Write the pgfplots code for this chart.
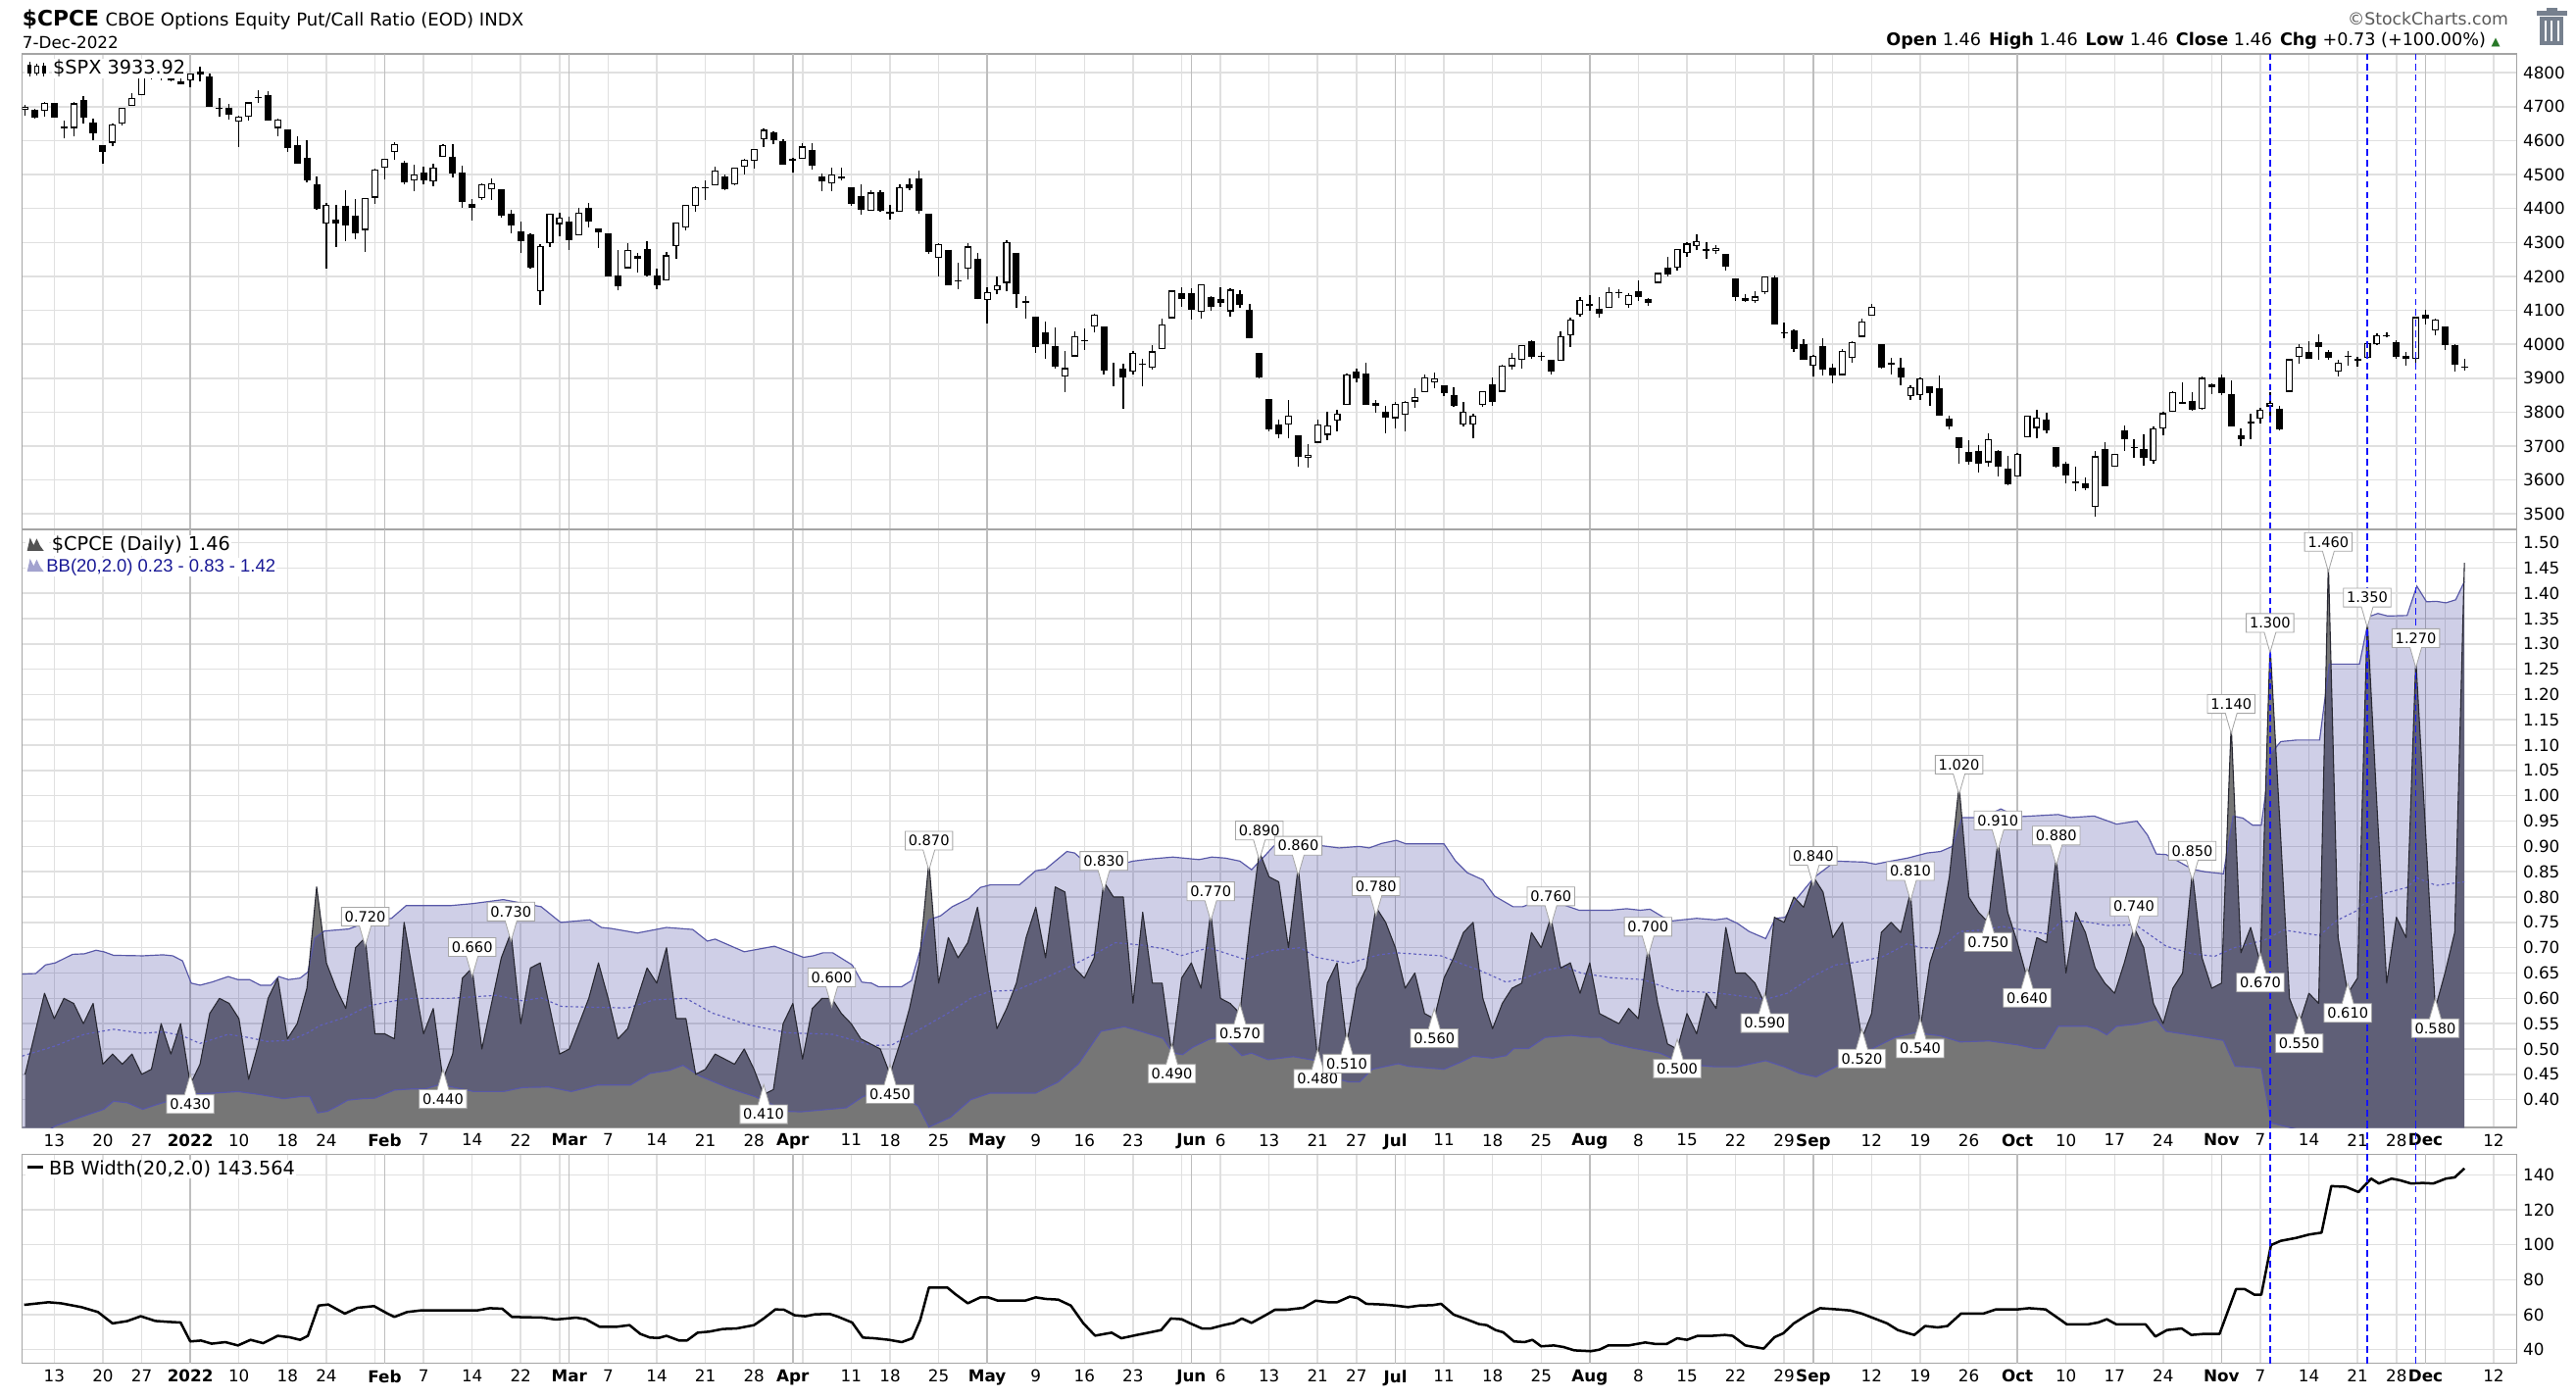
\documentclass[border=0pt]{standalone}
\usepackage{fontspec}
\setmainfont{DejaVu Sans}
\newfontfamily\libsans{Liberation Sans}
\usepackage{pgfplots}
\usepackage{pgfplotstable}
\pgfplotsset{compat=1.18}
\usetikzlibrary{shapes.callouts}

\definecolor{cpcegray}{RGB}{118,118,118}
\definecolor{bbfill}{RGB}{0,0,125}
\definecolor{bbline}{RGB}{88,88,168}
\definecolor{bbmid}{RGB}{95,95,190}
\definecolor{cpceline}{RGB}{40,40,50}
\definecolor{gridlt}{RGB}{224,224,224}
\definecolor{griddk}{RGB}{190,190,190}
\definecolor{framec}{RGB}{165,165,165}
\definecolor{legblue}{RGB}{25,25,150}
\definecolor{upgreen}{RGB}{40,120,40}
\definecolor{trash}{RGB}{118,128,142}
\definecolor{dashblue}{RGB}{20,20,255}

\pgfplotstableread{
i o h l c
-3 4690 4705 4674 4701
-2 4691 4695 4665 4668
-1 4687 4713 4670 4712
0 4710 4711 4667 4669
1 4643 4660 4606 4635
2 4637 4713 4612 4710
3 4719 4732 4651 4669
4 4652 4666 4600 4621
5 4587 4588 4531 4568
6 4594 4651 4583 4649
7 4650 4698 4645 4697
8 4703 4741 4703 4725
9 4733 4791 4733 4791
10 4795 4807 4780 4786
11 4788 4805 4779 4793
12 4795 4808 4775 4778
13 4775 4787 4765 4766
14 4778 4797 4758 4797
15 4805 4819 4774 4794
16 4788 4798 4699 4701
17 4693 4725 4671 4696
18 4698 4707 4663 4677
19 4655 4673 4582 4670
20 4670 4715 4658 4713
21 4728 4749 4712 4726
22 4734 4745 4658 4660
23 4637 4666 4614 4663
24 4632 4633 4568 4577
25 4588 4612 4532 4533
26 4548 4602 4477 4483
27 4471 4495 4396 4398
28 4356 4417 4223 4410
29 4367 4412 4287 4357
30 4409 4454 4304 4350
31 4380 4429 4309 4326
32 4337 4432 4273 4432
33 4432 4517 4414 4516
34 4520 4547 4485 4546
35 4566 4595 4544 4589
36 4535 4542 4471 4477
37 4482 4529 4451 4501
38 4505 4522 4472 4484
39 4480 4531 4466 4521
40 4553 4590 4553 4587
41 4553 4589 4492 4504
42 4506 4527 4402 4419
43 4413 4427 4364 4401
44 4430 4473 4426 4472
45 4456 4490 4425 4475
46 4456 4456 4372 4380
47 4385 4395 4328 4349
48 4332 4362 4268 4305
49 4325 4327 4222 4226
50 4156 4295 4115 4289
51 4298 4385 4287 4385
52 4354 4389 4318 4374
53 4363 4375 4279 4306
54 4322 4401 4322 4387
55 4401 4417 4345 4363
56 4342 4342 4285 4329
57 4327 4327 4199 4201
58 4203 4277 4158 4171
59 4224 4299 4224 4278
60 4253 4268 4210 4260
61 4280 4303 4200 4204
62 4203 4222 4162 4173
63 4188 4271 4187 4262
64 4289 4358 4253 4358
65 4345 4412 4335 4412
66 4407 4465 4390 4463
67 4462 4482 4425 4461
68 4469 4523 4469 4512
69 4494 4501 4455 4456
70 4470 4520 4469 4520
71 4523 4546 4501 4543
72 4541 4576 4517 4576
73 4603 4637 4582 4632
74 4624 4627 4589 4602
75 4599 4604 4530 4530
76 4541 4548 4507 4546
77 4547 4593 4547 4583
78 4572 4593 4515 4525
79 4494 4504 4451 4481
80 4474 4521 4451 4500
81 4494 4520 4484 4488
82 4462 4464 4409 4413
83 4437 4471 4382 4397
84 4394 4453 4392 4447
85 4449 4453 4390 4392
86 4386 4410 4367 4391
87 4390 4471 4390 4462
88 4472 4489 4455 4460
89 4489 4512 4385 4394
90 4385 4386 4267 4272
91 4255 4299 4201 4296
92 4279 4279 4174 4175
93 4187 4240 4163 4184
94 4223 4299 4190 4288
95 4253 4270 4132 4132
96 4131 4169 4062 4155
97 4159 4200 4147 4175
98 4181 4308 4156 4301
99 4270 4270 4106 4147
100 4129 4141 4075 4123
101 4082 4082 3975 3991
102 4036 4068 3958 4001
103 3994 4050 3928 3935
104 3904 3981 3859 3930
105 3964 4039 3964 4024
106 4013 4047 3984 4008
107 4053 4090 4034 4088
108 4052 4052 3912 3923
109 3901 3946 3877 3901
110 3927 3944 3810 3901
111 3920 3981 3910 3974
112 3943 3956 3875 3941
113 3930 3999 3925 3979
114 3985 4076 3985 4058
115 4077 4158 4077 4158
116 4151 4169 4110 4132
117 4150 4166 4074 4101
118 4095 4178 4075 4177
119 4138 4142 4099 4109
120 4134 4169 4110 4121
121 4097 4164 4081 4161
122 4148 4160 4107 4116
123 4102 4120 4017 4018
124 3974 3974 3900 3901
125 3838 3838 3744 3750
126 3764 3778 3722 3735
127 3764 3837 3722 3790
128 3733 3733 3639 3667
129 3665 3707 3637 3675
130 3710 3779 3710 3765
131 3733 3802 3718 3760
132 3775 3808 3743 3796
133 3821 3913 3821 3912
134 3920 3928 3889 3900
135 3913 3945 3820 3821
136 3826 3837 3799 3819
137 3800 3819 3738 3785
138 3782 3829 3752 3825
139 3793 3832 3742 3831
140 3831 3870 3813 3845
141 3859 3910 3859 3903
142 3888 3918 3870 3899
143 3880 3880 3847 3855
144 3851 3874 3815 3819
145 3763 3829 3759 3802
146 3764 3796 3722 3790
147 3820 3863 3817 3863
148 3883 3903 3818 3831
149 3860 3939 3860 3937
150 3935 3975 3925 3960
151 3955 3999 3927 3999
152 4008 4012 3956 3962
153 3966 3976 3950 3967
154 3953 3953 3910 3921
155 3951 4039 3951 4024
156 4027 4079 3993 4072
157 4087 4140 4080 4130
158 4112 4145 4099 4119
159 4105 4140 4079 4091
160 4107 4167 4107 4155
161 4154 4161 4135 4152
162 4115 4152 4107 4145
163 4156 4187 4128 4140
164 4134 4137 4112 4122
165 4181 4212 4181 4210
166 4227 4258 4201 4207
167 4225 4281 4218 4280
168 4270 4301 4257 4297
169 4290 4325 4277 4305
170 4281 4302 4253 4275
171 4274 4293 4265 4284
172 4266 4266 4218 4228
173 4195 4195 4128 4138
174 4135 4149 4124 4128
175 4127 4157 4122 4141
176 4154 4200 4147 4199
177 4198 4204 4058 4058
178 4034 4063 4017 4031
179 4042 4045 3976 3986
180 4000 4015 3955 3955
181 3936 3970 3904 3967
182 3995 4019 3907 3924
183 3930 3942 3886 3908
184 3909 3987 3907 3980
185 3959 4010 3945 4006
186 4022 4077 4022 4067
187 4084 4119 4084 4110
188 4000 4000 3928 3932
189 3941 3961 3912 3946
190 3932 3959 3880 3901
191 3847 3880 3837 3873
192 3849 3901 3837 3900
193 3875 3877 3819 3856
194 3871 3907 3789 3790
195 3782 3791 3749 3758
196 3727 3727 3647 3693
197 3682 3716 3644 3655
198 3687 3704 3623 3647
199 3652 3737 3640 3720
200 3687 3688 3610 3640
201 3633 3672 3584 3586
202 3610 3679 3610 3678
203 3726 3791 3726 3791
204 3753 3807 3722 3783
205 3777 3797 3739 3745
206 3696 3698 3636 3640
207 3647 3653 3589 3612
208 3595 3640 3568 3589
209 3590 3609 3570 3577
210 3520 3685 3492 3670
211 3690 3713 3582 3583
212 3638 3677 3638 3677
213 3747 3762 3687 3720
214 3696 3719 3666 3695
215 3690 3736 3641 3665
216 3657 3757 3647 3752
217 3752 3800 3733 3797
218 3800 3862 3800 3859
219 3825 3887 3824 3831
220 3834 3859 3803 3807
221 3809 3905 3808 3901
222 3882 3886 3853 3872
223 3901 3912 3849 3856
224 3853 3894 3759 3759
225 3733 3751 3699 3720
226 3767 3796 3721 3771
227 3780 3814 3766 3807
228 3817 3859 3786 3828
229 3810 3818 3745 3749
230 3860 3958 3860 3956
231 3963 4001 3944 3993
232 3978 4009 3956 3957
233 4006 4029 3953 3992
234 3977 3983 3955 3959
235 3919 3954 3906 3947
236 3966 3980 3936 3965
237 3957 3962 3933 3950
238 3959 4005 3956 4004
239 4001 4033 3998 4027
240 4023 4035 4020 4026
241 4005 4013 3956 3964
242 3965 3976 3937 3958
243 3957 4080 3939 4080
244 4087 4101 4058 4076
245 4041 4077 4027 4072
246 4053 4053 3984 3999
247 3997 4001 3919 3941
248 3931 3958 3923 3934
}\spx

\pgfplotstableread{
i v
-3 0.45
-2 0.53
-1 0.61
0 0.56
1 0.60
2 0.59
3 0.55
4 0.59
5 0.47
6 0.49
7 0.47
8 0.49
9 0.45
10 0.46
11 0.55
12 0.49
13 0.55
14 0.43
15 0.47
16 0.57
17 0.60
18 0.59
19 0.56
20 0.44
21 0.51
22 0.60
23 0.64
24 0.52
25 0.55
26 0.62
27 0.82
28 0.67
29 0.62
30 0.58
31 0.70
32 0.72
33 0.53
34 0.53
35 0.52
36 0.75
37 0.64
38 0.53
39 0.58
40 0.44
41 0.49
42 0.64
43 0.66
44 0.50
45 0.59
46 0.68
47 0.73
48 0.55
49 0.66
50 0.67
51 0.58
52 0.49
53 0.50
54 0.55
55 0.60
56 0.67
57 0.60
58 0.52
59 0.54
60 0.60
61 0.66
62 0.63
63 0.70
64 0.56
65 0.56
66 0.45
67 0.46
68 0.49
69 0.48
70 0.47
71 0.50
72 0.46
73 0.41
74 0.42
75 0.55
76 0.59
77 0.48
78 0.58
79 0.60
80 0.60
81 0.57
82 0.55
83 0.52
84 0.51
85 0.50
86 0.45
87 0.51
88 0.58
89 0.67
90 0.87
91 0.63
92 0.72
93 0.68
94 0.71
95 0.78
96 0.66
97 0.54
98 0.58
99 0.63
100 0.72
101 0.78
102 0.68
103 0.82
104 0.81
105 0.66
106 0.64
107 0.68
108 0.83
109 0.80
110 0.80
111 0.59
112 0.77
113 0.63
114 0.63
115 0.49
116 0.64
117 0.67
118 0.62
119 0.77
120 0.60
121 0.59
122 0.57
123 0.74
124 0.89
125 0.84
126 0.83
127 0.70
128 0.86
129 0.67
130 0.48
131 0.63
132 0.67
133 0.51
134 0.62
135 0.66
136 0.78
137 0.75
138 0.70
139 0.62
140 0.65
141 0.57
142 0.56
143 0.64
144 0.68
145 0.73
146 0.75
147 0.60
148 0.54
149 0.59
150 0.62
151 0.63
152 0.73
153 0.70
154 0.76
155 0.66
156 0.67
157 0.61
158 0.67
159 0.57
160 0.56
161 0.55
162 0.58
163 0.56
164 0.70
165 0.59
166 0.51
167 0.50
168 0.57
169 0.53
170 0.61
171 0.58
172 0.74
173 0.65
174 0.65
175 0.63
176 0.59
177 0.76
178 0.75
179 0.80
180 0.78
181 0.84
182 0.81
183 0.72
184 0.75
185 0.64
186 0.52
187 0.57
188 0.73
189 0.75
190 0.73
191 0.81
192 0.54
193 0.67
194 0.73
195 0.84
196 1.02
197 0.80
198 0.77
199 0.75
200 0.91
201 0.77
202 0.71
203 0.64
204 0.72
205 0.71
206 0.88
207 0.65
208 0.77
209 0.73
210 0.66
211 0.63
212 0.61
213 0.67
214 0.74
215 0.70
216 0.59
217 0.55
218 0.62
219 0.65
220 0.85
221 0.68
222 0.62
223 0.63
224 1.14
225 0.69
226 0.74
227 0.67
228 1.30
229 0.95
230 0.60
231 0.55
232 0.61
233 0.59
234 1.46
235 0.72
236 0.61
237 0.64
238 1.35
239 0.98
240 0.63
241 0.76
242 0.72
243 1.27
244 0.93
245 0.58
246 0.65
247 0.73
248 1.46
}\cpce

\pgfplotstableread{
x y s
-3.3 0.648 1
-1.9 0.649 1
-0.9 0.666 1
0.1 0.670 1
1.9 0.687 1
3.1 0.688 1
4.3 0.695 1
5.1 0.692 1
6.1 0.685 1
9.1 0.684 1
11.2 0.686 1
12.2 0.684 1
13.2 0.674 1
14.1 0.630 1
15.0 0.626 1
16.2 0.632 1
17.9 0.643 1
18.9 0.637 1
20.1 0.637 1
21.2 0.626 1
22.3 0.626 1
23.1 0.643 1
24.1 0.637 1
25.3 0.640 1
26.1 0.652 1
26.8 0.719 1
27.8 0.733 1
30.3 0.737 1
32.1 0.750 1
34.7 0.758 1
36.2 0.783 1
40.7 0.783 1
43.0 0.787 1
46.2 0.795 1
50.1 0.781 1
52.1 0.750 1
55.1 0.755 1
56.3 0.740 1
57.3 0.738 1
60.0 0.729 1
63.0 0.740 1
65.7 0.736 1
67.2 0.713 1
68.0 0.717 1
71.0 0.692 1
74.1 0.703 1
77.1 0.681 1
78.1 0.684 1
79.1 0.690 1
80.1 0.690 1
82.1 0.666 1
83.1 0.632 1
84.1 0.630 1
84.8 0.623 1
87.2 0.623 1
88.2 0.635 1
90.0 0.755 1
91.2 0.763 1
92.4 0.781 1
94.1 0.797 1
95.3 0.819 1
96.3 0.824 1
99.3 0.824 1
101.0 0.852 1
102.0 0.855 1
104.2 0.890 1
105.0 0.887 1
106.4 0.863 1
108.0 0.856 1
111.0 0.871 1
112.7 0.875 1
115.1 0.879 1
117.8 0.874 1
119.1 0.879 1
120.5 0.877 1
122.0 0.871 1
123.2 0.854 1
124.2 0.874 1
125.5 0.901 1
127.5 0.905 1
130.6 0.901 1
132.2 0.897 1
134.3 0.900 1
135.3 0.897 1
136.6 0.906 1
138.1 0.912 1
139.1 0.905 1
143.0 0.905 1
144.2 0.871 1
145.4 0.848 1
147.0 0.834 1
148.2 0.802 1
150.1 0.781 1
151.1 0.781 1
152.4 0.790 1
155.4 0.784 1
156.9 0.774 1
160.1 0.774 1
161.8 0.777 1
163.2 0.774 1
164.2 0.776 1
165.5 0.761 1
166.5 0.753 1
169.0 0.758 1
170.9 0.755 1
172.1 0.758 1
173.2 0.748 1
174.4 0.732 1
176.1 0.718 1
177.1 0.758 1
178.1 0.760 1
179.3 0.797 1
181.1 0.839 1
183.3 0.871 1
186.3 0.869 1
187.4 0.865 1
188.7 0.870 1
190.7 0.877 1
192.7 0.887 1
194.1 0.890 1
195.3 0.900 1
196.3 0.957 1
198.4 0.957 1
200.3 0.974 1
201.3 0.965 1
202.5 0.959 1
206.2 0.963 1
207.5 0.957 1
209.9 0.960 1
212.2 0.944 1
214.3 0.950 1
215.4 0.922 1
216.3 0.885 1
217.3 0.884 1
220.0 0.855 1
221.3 0.850 1
223.2 0.846 1
224.2 0.960 1
225.2 0.956 1
226.2 0.942 1
227.1 0.942 1
228.1 1.084 1
229.1 1.107 1
230.7 1.110 1
233.1 1.110 1
234.1 1.260 1
237.2 1.260 1
238.2 1.354 1
239.1 1.360 1
240.1 1.355 1
242.1 1.356 1
243.1 1.414 1
244.1 1.383 1
245.1 1.384 1
246.1 1.381 1
247.1 1.387 1
248.0 1.423 1
248.0 0.237 0
245.1 0.262 0
243.1 0.262 0
242.1 0.282 0
240.1 0.262 0
238.2 0.238 0
237.2 0.250 0
234.1 0.245 0
233.1 0.338 0
230.7 0.342 0
228.1 0.354 0
227.1 0.462 0
226.2 0.464 0
224.4 0.466 0
223.2 0.517 0
221.3 0.523 0
220.0 0.527 0
217.3 0.535 0
216.3 0.558 0
214.2 0.549 0
212.2 0.545 0
211.2 0.528 0
210.2 0.539 0
209.2 0.545 0
206.2 0.545 0
204.8 0.501 0
203.8 0.501 0
202.1 0.508 0
199.1 0.516 0
196.1 0.514 0
194.1 0.526 0
191.4 0.532 0
189.4 0.523 0
186.0 0.490 0
183.3 0.465 0
181.3 0.445 0
179.6 0.452 0
178.0 0.465 0
176.1 0.477 0
173.2 0.465 0
170.9 0.465 0
168.2 0.469 0
166.8 0.479 0
165.2 0.492 0
163.8 0.497 0
162.1 0.503 0
160.1 0.512 0
159.1 0.523 0
158.1 0.523 0
156.1 0.527 0
153.4 0.523 0
151.7 0.501 0
150.2 0.501 0
149.4 0.487 0
148.0 0.482 0
146.0 0.486 0
144.7 0.474 0
143.0 0.460 0
139.3 0.466 0
138.3 0.471 0
135.6 0.460 0
134.3 0.435 0
133.2 0.435 0
131.2 0.445 0
129.9 0.477 0
127.5 0.485 0
124.9 0.479 0
123.2 0.492 0
122.2 0.487 0
121.2 0.506 0
120.1 0.524 0
118.8 0.519 0
117.1 0.503 0
116.1 0.489 0
115.1 0.492 0
114.1 0.521 0
111.8 0.535 0
110.1 0.544 0
107.7 0.535 0
105.4 0.471 0
103.3 0.435 0
101.0 0.413 0
96.3 0.413 0
94.3 0.400 0
92.2 0.365 0
90.0 0.346 0
88.9 0.387 0
87.9 0.400 0
86.5 0.405 0
84.5 0.413 0
83.2 0.406 0
81.5 0.384 0
76.8 0.376 0
75.4 0.377 0
72.1 0.406 0
69.4 0.423 0
66.4 0.447 0
64.7 0.468 0
63.3 0.458 0
61.3 0.452 0
59.3 0.429 0
55.9 0.429 0
53.2 0.416 0
50.9 0.425 0
48.2 0.424 0
46.2 0.416 0
43.2 0.416 0
39.7 0.430 0
38.1 0.421 0
36.7 0.421 0
35.0 0.419 0
33.0 0.403 0
31.7 0.402 0
30.2 0.399 0
29.1 0.387 0
28.1 0.377 0
27.1 0.374 0
26.3 0.406 0
25.3 0.406 0
23.6 0.402 0
21.2 0.410 0
18.9 0.416 0
16.5 0.413 0
14.1 0.411 0
12.2 0.400 0
10.5 0.390 0
9.1 0.381 0
7.5 0.394 0
6.1 0.397 0
5.1 0.381 0
3.1 0.368 0
0.1 0.348 0
-1.0 0.335 0
-3.3 0.320 0
}\band

\pgfplotstableread{
x y
-3.3 0.486
-2.8 0.489
0.1 0.506
3.1 0.529
6.1 0.539
9.1 0.531
11.2 0.534
13.2 0.526
15.0 0.511
17.9 0.529
19.9 0.523
21.9 0.515
24.3 0.517
26.1 0.532
27.3 0.546
30.0 0.563
32.3 0.585
34.7 0.594
36.7 0.600
40.7 0.600
45.5 0.606
48.2 0.595
50.1 0.601
52.2 0.584
59.0 0.581
61.7 0.597
65.0 0.600
67.7 0.571
71.4 0.548
75.4 0.532
80.1 0.529
84.2 0.507
86.2 0.508
89.9 0.548
91.9 0.570
94.3 0.600
96.3 0.614
99.0 0.616
101.3 0.635
104.0 0.658
106.7 0.684
109.2 0.710
112.0 0.705
114.4 0.697
115.9 0.684
118.8 0.700
122.5 0.677
125.2 0.694
128.2 0.700
129.9 0.681
133.2 0.669
136.3 0.686
138.1 0.690
142.7 0.684
144.7 0.669
146.7 0.655
149.4 0.632
151.4 0.641
153.4 0.655
155.4 0.663
157.1 0.650
160.1 0.641
163.5 0.637
166.8 0.615
170.9 0.611
174.3 0.603
176.1 0.598
178.3 0.610
181.1 0.645
183.3 0.666
185.3 0.671
188.1 0.682
190.7 0.708
192.1 0.700
194.1 0.699
196.1 0.732
198.5 0.735
200.5 0.742
202.8 0.734
205.2 0.727
206.5 0.752
208.5 0.753
211.2 0.744
214.2 0.745
215.3 0.730
217.3 0.703
220.0 0.688
222.3 0.683
224.3 0.700
227.4 0.715
229.4 0.735
233.1 0.724
234.8 0.753
236.8 0.772
238.2 0.796
240.1 0.809
242.1 0.819
243.1 0.838
245.1 0.823
248.0 0.830
}\bbmidt

\pgfplotstableread{
x y
-3.1 65.6
-0.6 67.1
0.7 66.5
2.8 64.3
4.5 61.5
6.0 55.0
7.5 56.3
8.9 59.1
10.4 56.4
11.7 55.9
13.0 55.5
14.0 44.7
15.1 45.2
16.2 43.4
17.6 44.3
18.9 42.4
20.2 45.6
21.5 43.7
23.0 47.9
24.2 47.1
25.3 45.6
26.1 47.9
27.2 65.2
28.2 65.8
29.9 60.6
31.2 63.9
32.9 64.9
34.2 60.9
35.0 58.7
36.3 61.5
37.7 62.4
43.5 62.4
44.8 63.7
46.1 63.4
47.1 58.7
50.3 58.3
51.6 57.2
53.7 58.3
54.7 57.4
56.1 53.1
57.9 53.1
59.2 54.0
60.3 49.0
61.3 46.9
62.2 46.7
63.0 47.9
64.3 45.2
65.1 45.2
66.2 49.7
67.4 50.3
68.8 51.8
70.2 52.1
72.0 54.0
73.0 57.8
74.2 63.0
75.1 62.8
76.2 59.6
77.3 59.1
78.3 60.2
79.8 60.4
80.7 58.7
82.1 55.5
83.2 46.9
84.4 46.5
85.9 45.6
87.2 44.3
88.3 46.5
89.1 56.8
90.0 75.5
91.9 75.5
92.7 71.8
94.0 66.5
95.3 69.9
96.1 69.9
97.1 68.0
99.9 68.0
101.0 69.9
102.0 69.0
103.3 68.6
104.6 65.2
105.9 55.0
107.1 48.0
108.8 49.7
109.8 46.5
111.4 48.4
112.6 49.7
113.9 51.2
114.9 57.8
116.0 57.4
116.9 55.0
118.1 52.1
119.0 52.1
120.3 54.0
121.4 55.3
122.2 57.8
123.2 55.3
124.8 60.2
125.6 62.8
126.8 62.8
128.5 63.9
129.8 68.0
131.1 67.1
132.0 67.1
133.3 70.3
134.1 69.5
135.0 66.2
136.7 65.8
138.0 65.2
139.3 64.3
140.5 65.2
141.8 65.4
142.7 66.2
144.0 60.0
145.3 57.4
146.6 54.6
147.4 54.0
148.3 51.2
149.1 49.9
150.2 44.7
151.3 44.3
152.1 45.6
153.0 41.9
154.3 42.4
155.3 41.5
156.4 39.6
158.1 39.1
159.0 40.0
159.9 42.4
162.0 42.4
163.7 44.1
164.8 43.2
165.9 43.2
167.0 46.5
168.0 45.6
169.1 47.9
170.6 47.9
171.9 48.4
172.7 47.9
174.0 42.4
175.9 40.6
177.0 47.1
177.9 49.3
179.0 55.0
180.3 59.6
181.7 63.7
183.5 63.0
184.8 62.4
186.0 60.6
187.3 57.8
188.6 55.0
189.7 51.2
190.8 49.3
191.4 48.4
192.5 53.5
193.8 52.7
194.8 53.5
196.2 60.6
198.5 60.6
199.8 63.0
202.0 63.0
203.2 63.7
204.9 63.0
206.5 56.8
207.1 54.4
209.2 54.4
210.3 55.5
211.2 57.4
212.2 54.4
215.2 54.4
216.2 47.5
217.4 51.2
218.9 52.1
219.9 48.4
221.2 49.0
222.8 49.0
224.5 74.6
225.4 74.6
226.4 71.4
227.1 71.4
228.1 99.8
229.1 102.2
230.7 103.9
232.0 105.8
233.3 106.9
234.3 133.5
235.8 133.1
237.1 130.1
238.4 137.8
239.2 135.0
240.5 137.8
241.4 136.8
242.5 135.0
243.7 135.3
244.8 135.0
246.1 137.8
247.0 138.5
248.0 143.6
}\bbw

\tikzset{
  peakl/.style={rectangle callout, fill=white, draw=black!35, line width=0.5pt,
    inner xsep=2pt, inner ysep=2.4pt, font=\fontsize{8.7}{9}\selectfont,
    yshift=6.8pt, callout relative pointer={(0pt,-12.3pt)}},
  troughl/.style={rectangle callout, fill=white, draw=black!35, line width=0.5pt,
    inner xsep=2pt, inner ysep=2.4pt, font=\fontsize{8.7}{9}\selectfont,
    yshift=-17.9pt, callout relative pointer={(0pt,12.3pt)}},
}

\pgfplotsset{
  panel/.style={
    scale only axis, width=1518.5pt, xmin=-3.3, xmax=253.4,
    anchor=south west,
    axis line style={draw=framec, line width=0.8pt},
    xtick={0,5,9,14,19,24,28,33,38,43,48,52,57,62,67,72,77,82,86,91,96,101,106,111,116,120,125,130,134,139,143,148,153,158,163,168,173,178,183,187,192,197,202,207,212,217,222,227,232,237,241,246,251},
    extra x ticks={14,34,53,76,96,117,138,158,181,202,223,244},
    xmajorgrids, ymajorgrids,
    major grid style={draw=gridlt, line width=0.9pt},
    extra x tick style={major grid style={draw=griddk, line width=0.8pt}},
    major tick length=0pt,
    ytick pos=right, yticklabel pos=right,
    yticklabel style={font=\fontsize{10}{10}\selectfont, anchor=west, inner sep=0pt, xshift=3.6pt},
    xticklabel style={font=\fontsize{10}{10}\selectfont, anchor=north, inner sep=0pt, yshift=-3.7pt},
    /pgf/number format/assume math mode=true,
    /pgf/number format/1000 sep={},
  },
  wklabels/.style={
    xticklabels={13,20,27,,10,18,24,,7,14,22,,7,14,21,28,,11,18,25,,9,16,23,,6,13,21,27,,11,18,25,,8,15,22,29,,12,19,26,,10,17,24,,7,14,21,28,,12},
    extra x tick labels={\textbf{2022},\textbf{Feb},\textbf{Mar},\textbf{Apr},\textbf{May},\textbf{Jun},\textbf{Jul},\textbf{Aug},\textbf{Sep},\textbf{Oct},\textbf{Nov},\textbf{Dec}},
  },
}

\begin{document}
\begin{tikzpicture}
\useasboundingbox (0pt,0pt) rectangle (1568pt,850.8pt);

% ---------------- Panel 1: SPX candlesticks
\begin{axis}[panel, at={(13.5pt,528.6pt)}, height=289.4pt,
  ymin=3454.5, ymax=4855.7, ytick={3500,3600,...,4800},
  xticklabels={}, extra x tick labels={}]
\addplot[black, line width=0.8pt, quiver={u=0, v=\thisrow{h}-\thisrow{l}}] table[x=i,y=l]{\spx};
\addplot[black, line width=4.2pt, quiver={u=0, v=\thisrow{c}-\thisrow{o}},
  restrict expr to domain={\thisrow{o}-\thisrow{c}}{0:100000}] table[x=i,y=o]{\spx};
\addplot[black, line width=4.2pt, quiver={u=0, v=\thisrow{c}-\thisrow{o}},
  restrict expr to domain={\thisrow{c}-\thisrow{o}}{0.5:100000}] table[x=i,y=o]{\spx};
\addplot[white, line width=2.8pt, quiver={u=0, v=\thisrow{c}-\thisrow{o}-6.8},
  restrict expr to domain={\thisrow{c}-\thisrow{o}}{8:100000}] table[x=i,y expr=\thisrow{o}+3.4]{\spx};
\addplot[dashblue, line width=0.9pt, dash pattern=on 4pt off 2.5pt] coordinates {(228,3454.5) (228,4855.7)};
\addplot[dashblue, line width=0.9pt, dash pattern=on 4pt off 2.5pt] coordinates {(238,3454.5) (238,4855.7)};
\addplot[dashblue, line width=0.9pt, dash pattern=on 4pt off 2.5pt] coordinates {(243,3454.5) (243,4855.7)};
\end{axis}

% ---------------- Panel 2: CPCE with Bollinger Bands
\begin{axis}[panel, wklabels, at={(13.5pt,164.6pt)}, height=364pt,
  ymin=0.345, ymax=1.526,
  ytick={0.40,0.45,0.50,0.55,0.60,0.65,0.70,0.75,0.80,0.85,0.90,0.95,1.00,1.05,1.10,1.15,1.20,1.25,1.30,1.35,1.40,1.45,1.50},
  /pgf/number format/fixed, /pgf/number format/fixed zerofill, /pgf/number format/precision=2]
\addplot[draw=none, fill=cpcegray] table[x=i,y=v]{\cpce} \closedcycle;
\addplot[draw=none, fill=bbfill, fill opacity=0.19] table[x=x,y=y]{\band};
\addplot[bbline, line width=0.7pt, restrict expr to domain={\thisrow{s}}{0.5:1.5}] table[x=x,y=y]{\band};
\addplot[bbline, line width=0.7pt, restrict expr to domain={\thisrow{s}}{-0.5:0.5}] table[x=x,y=y]{\band};
\addplot[bbmid, line width=0.7pt, dash pattern=on 1.6pt off 1.6pt] table[x=x,y=y]{\bbmidt};
\addplot[cpceline, line width=0.65pt, line join=round] table[x=i,y=v]{\cpce};
\addplot[draw=none, mark=none, nodes near coords, point meta=explicit symbolic,
  every node near coord/.append style={peakl}] coordinates {
(32,0.72)[0.720] (43,0.66)[0.660] (47,0.73)[0.730] (80,0.60)[0.600] (90,0.87)[0.870]
(108,0.83)[0.830] (119,0.77)[0.770] (124,0.89)[0.890] (128,0.86)[0.860] (136,0.78)[0.780]
(154,0.76)[0.760] (164,0.70)[0.700] (181,0.84)[0.840] (191,0.81)[0.810] (196,1.02)[1.020]
(200,0.91)[0.910] (206,0.88)[0.880] (214,0.74)[0.740] (220,0.85)[0.850] (224,1.14)[1.140]
(228,1.30)[1.300] (234,1.46)[1.460] (238,1.35)[1.350] (243,1.27)[1.270]};
\addplot[draw=none, mark=none, nodes near coords, point meta=explicit symbolic,
  every node near coord/.append style={troughl}] coordinates {
(14,0.43)[0.430] (40,0.44)[0.440] (73,0.41)[0.410] (86,0.45)[0.450] (115,0.49)[0.490]
(122,0.57)[0.570] (130,0.48)[0.480] (133,0.51)[0.510] (142,0.56)[0.560] (167,0.50)[0.500]
(176,0.59)[0.590] (186,0.52)[0.520] (192,0.54)[0.540] (199,0.75)[0.750] (203,0.64)[0.640]
(227,0.67)[0.670] (231,0.55)[0.550] (236,0.61)[0.610] (245,0.58)[0.580]};
\addplot[dashblue, line width=0.9pt, dash pattern=on 4pt off 2.5pt] coordinates {(228,0.345) (228,1.526)};
\addplot[dashblue, line width=0.9pt, dash pattern=on 4pt off 2.5pt] coordinates {(238,0.345) (238,1.526)};
\addplot[dashblue, line width=0.9pt, dash pattern=on 4pt off 2.5pt] coordinates {(243,0.345) (243,1.526)};
\end{axis}

% ---------------- Panel 3: BB Width
\begin{axis}[panel, wklabels, at={(13.5pt,21pt)}, height=127.3pt,
  ymin=32.1, ymax=151.7, ytick={40,60,...,140}, clip=false]
\addplot[black, line width=1.5pt, line join=round] table[x=x,y=y]{\bbw};
\addplot[dashblue, line width=0.9pt, dash pattern=on 4pt off 2.5pt] coordinates {(228,32.1) (228,167.0)};
\addplot[dashblue, line width=0.9pt, dash pattern=on 4pt off 2.5pt] coordinates {(238,32.1) (238,167.0)};
\addplot[dashblue, line width=0.9pt, dash pattern=on 4pt off 2.5pt] coordinates {(243,32.1) (243,167.0)};
\end{axis}

% ---------------- Header
\node[anchor=base west, inner sep=0pt, font=\fontsize{13}{13}\selectfont\bfseries] at (13.5pt,834.8pt) {\$CPCE};
\node[anchor=base west, inner sep=0pt, font=\fontsize{10.8}{11}\selectfont] at (64pt,834.8pt) {CBOE Options Equity Put/Call Ratio (EOD) INDX};
\node[anchor=base west, inner sep=0pt, font=\fontsize{10}{10}\selectfont] at (13.5pt,821.4pt) {7-Dec-2022};
\node[anchor=base east, inner sep=0pt, font=\fontsize{10.3}{10}\selectfont, text=black!65] at (1527pt,835.3pt) {©StockCharts.com};
\node[anchor=base east, inner sep=0pt, font=\fontsize{10.5}{10}\selectfont] at (1522pt,822.9pt)
  {\textbf{Open} 1.46\hspace{0.45em}\textbf{High} 1.46\hspace{0.45em}\textbf{Low} 1.46\hspace{0.45em}\textbf{Close} 1.46\hspace{0.45em}\textbf{Chg} +0.73 (+100.00\%) {\fontsize{7}{7}\selectfont\color{upgreen}▲}};
% trash icon
\fill[trash] (1544pt,841.5pt) rectangle (1562.5pt,844.3pt);
\fill[trash] (1550pt,844.3pt) rectangle (1556.5pt,846.3pt);
\fill[trash] (1546pt,823.5pt) rectangle (1560.5pt,840.5pt);
\fill[white] (1548.8pt,826pt) rectangle (1550pt,838pt);
\fill[white] (1552.6pt,826pt) rectangle (1553.8pt,838pt);
\fill[white] (1556.4pt,826pt) rectangle (1557.6pt,838pt);

% ---------------- Legends
\node[anchor=base west, inner sep=0.6pt, fill=white, font=\fontsize{11.5}{12}\selectfont] at (31.5pt,805.5pt) {\$SPX 3933.92};
\fill[white] (15pt,803.5pt) rectangle (30pt,814pt);
\draw[black, line width=0.5pt] (18pt,804.5pt) -- (18pt,813pt);
\fill[black] (16.8pt,806pt) rectangle (19.2pt,811.5pt);
\draw[black, line width=0.5pt] (22.5pt,805pt) -- (22.5pt,812pt);
\filldraw[fill=white, draw=black, line width=0.5pt] (21.4pt,806.5pt) rectangle (23.6pt,810.5pt);
\draw[black, line width=0.5pt] (26.8pt,804.5pt) -- (26.8pt,812.5pt);
\fill[black] (25.6pt,806pt) rectangle (28pt,811pt);

\node[anchor=base west, inner sep=0.6pt, fill=white, font=\fontsize{11.5}{12}\selectfont] at (30.8pt,515.5pt) {\$CPCE (Daily) 1.46};
\fill[white] (15.5pt,513.5pt) rectangle (30pt,525pt);
\fill[cpcegray!70!black] (16.5pt,515.5pt) -- (18.3pt,523.5pt) -- (20.5pt,519pt) -- (22.3pt,523pt) -- (24.5pt,518.5pt) -- (26.7pt,515.5pt) -- cycle;

\node[anchor=base west, inner sep=0.6pt, fill=white, text=legblue, font=\libsans\fontsize{11}{11}\selectfont] at (27.5pt,502.8pt) {BB(20,2.0) 0.23 - 0.83 - 1.42};
\fill[white] (15.5pt,501pt) rectangle (27.5pt,512.5pt);
\fill[bbline!55!white] (16.5pt,502.8pt) -- (18.3pt,510.8pt) -- (20.5pt,506.3pt) -- (22.3pt,510.3pt) -- (24.5pt,505.8pt) -- (26.7pt,502.8pt) -- cycle;

\node[anchor=base west, inner sep=0.6pt, fill=white, font=\fontsize{11.5}{12}\selectfont] at (29.1pt,135.8pt) {BB Width(20,2.0) 143.564};
\fill[white] (15.5pt,134pt) rectangle (29pt,145pt);
\draw[black, line width=2pt] (16.6pt,140.4pt) -- (26.1pt,140.4pt);
\end{tikzpicture}
\end{document}
